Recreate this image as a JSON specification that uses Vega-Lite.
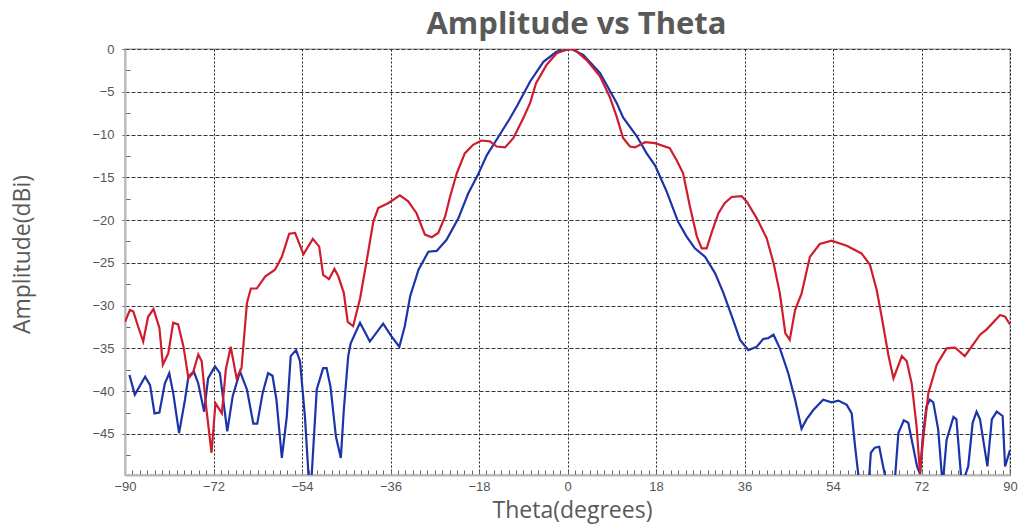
{
  "$schema": "https://vega.github.io/schema/vega-lite/v6.json",
  "width": 885,
  "height": 426,
  "autosize": "none",
  "padding": {"left": 125, "top": 49, "right": 14, "bottom": 52},
  "background": "white",
  "title": {"text": "Amplitude vs Theta", "font": "Open Sans", "fontSize": 31, "fontWeight": "bold", "color": "#595959", "anchor": "middle", "frame": "group", "offset": 2, "dx": 9},
  "config": {"view": {"stroke": "#bdbdbd", "strokeWidth": 1.5}},
  "data": {"values": [
    {"series": "Blue", "theta": -89.1, "amp": -38.1},
    {"series": "Blue", "theta": -88.0, "amp": -40.4},
    {"series": "Blue", "theta": -85.9, "amp": -38.3},
    {"series": "Blue", "theta": -84.9, "amp": -39.3},
    {"series": "Blue", "theta": -84.0, "amp": -42.6},
    {"series": "Blue", "theta": -83.0, "amp": -42.5},
    {"series": "Blue", "theta": -81.9, "amp": -39.1},
    {"series": "Blue", "theta": -81.0, "amp": -37.9},
    {"series": "Blue", "theta": -80.2, "amp": -40.2},
    {"series": "Blue", "theta": -79.0, "amp": -44.9},
    {"series": "Blue", "theta": -77.8, "amp": -41.0},
    {"series": "Blue", "theta": -77.1, "amp": -38.3},
    {"series": "Blue", "theta": -76.0, "amp": -37.7},
    {"series": "Blue", "theta": -75.1, "amp": -39.1},
    {"series": "Blue", "theta": -73.9, "amp": -42.4},
    {"series": "Blue", "theta": -73.1, "amp": -38.5},
    {"series": "Blue", "theta": -71.7, "amp": -37.1},
    {"series": "Blue", "theta": -70.7, "amp": -37.9},
    {"series": "Blue", "theta": -69.2, "amp": -44.7},
    {"series": "Blue", "theta": -68.1, "amp": -40.6},
    {"series": "Blue", "theta": -66.6, "amp": -37.7},
    {"series": "Blue", "theta": -65.2, "amp": -39.8},
    {"series": "Blue", "theta": -63.9, "amp": -43.8},
    {"series": "Blue", "theta": -63.1, "amp": -43.8},
    {"series": "Blue", "theta": -62.0, "amp": -40.2},
    {"series": "Blue", "theta": -60.9, "amp": -37.9},
    {"series": "Blue", "theta": -60.0, "amp": -38.2},
    {"series": "Blue", "theta": -59.2, "amp": -41.0},
    {"series": "Blue", "theta": -58.1, "amp": -47.8},
    {"series": "Blue", "theta": -57.1, "amp": -43.0},
    {"series": "Blue", "theta": -56.3, "amp": -35.9},
    {"series": "Blue", "theta": -55.2, "amp": -35.2},
    {"series": "Blue", "theta": -54.4, "amp": -36.5},
    {"series": "Blue", "theta": -53.4, "amp": -43.0},
    {"series": "Blue", "theta": -52.6, "amp": -50.5},
    {"series": "Blue", "theta": -52.1, "amp": -50.5},
    {"series": "Blue", "theta": -51.0, "amp": -39.8},
    {"series": "Blue", "theta": -49.7, "amp": -37.3},
    {"series": "Blue", "theta": -49.0, "amp": -37.3},
    {"series": "Blue", "theta": -48.2, "amp": -39.5},
    {"series": "Blue", "theta": -47.1, "amp": -45.3},
    {"series": "Blue", "theta": -46.1, "amp": -47.8},
    {"series": "Blue", "theta": -45.5, "amp": -42.2},
    {"series": "Blue", "theta": -44.6, "amp": -35.9},
    {"series": "Blue", "theta": -44.1, "amp": -34.4},
    {"series": "Blue", "theta": -42.2, "amp": -32.0},
    {"series": "Blue", "theta": -40.2, "amp": -34.2},
    {"series": "Blue", "theta": -37.5, "amp": -32.1},
    {"series": "Blue", "theta": -35.8, "amp": -33.6},
    {"series": "Blue", "theta": -34.2, "amp": -34.8},
    {"series": "Blue", "theta": -33.1, "amp": -32.4},
    {"series": "Blue", "theta": -32.0, "amp": -28.9},
    {"series": "Blue", "theta": -30.3, "amp": -25.8},
    {"series": "Blue", "theta": -28.3, "amp": -23.7},
    {"series": "Blue", "theta": -26.6, "amp": -23.6},
    {"series": "Blue", "theta": -24.6, "amp": -22.3},
    {"series": "Blue", "theta": -22.2, "amp": -19.8},
    {"series": "Blue", "theta": -20.2, "amp": -16.9},
    {"series": "Blue", "theta": -18.3, "amp": -14.8},
    {"series": "Blue", "theta": -16.4, "amp": -12.4},
    {"series": "Blue", "theta": -14.2, "amp": -10.4},
    {"series": "Blue", "theta": -11.7, "amp": -8.1},
    {"series": "Blue", "theta": -10.3, "amp": -6.7},
    {"series": "Blue", "theta": -7.6, "amp": -3.8},
    {"series": "Blue", "theta": -4.9, "amp": -1.5},
    {"series": "Blue", "theta": -2.2, "amp": -0.3},
    {"series": "Blue", "theta": 0.8, "amp": 0.0},
    {"series": "Blue", "theta": 3.2, "amp": -0.7},
    {"series": "Blue", "theta": 6.6, "amp": -2.8},
    {"series": "Blue", "theta": 10.0, "amp": -6.3},
    {"series": "Blue", "theta": 11.3, "amp": -8.0},
    {"series": "Blue", "theta": 14.1, "amp": -10.2},
    {"series": "Blue", "theta": 16.1, "amp": -12.2},
    {"series": "Blue", "theta": 17.8, "amp": -13.6},
    {"series": "Blue", "theta": 20.2, "amp": -16.7},
    {"series": "Blue", "theta": 22.5, "amp": -20.2},
    {"series": "Blue", "theta": 24.2, "amp": -21.9},
    {"series": "Blue", "theta": 25.9, "amp": -23.3},
    {"series": "Blue", "theta": 28.0, "amp": -24.3},
    {"series": "Blue", "theta": 30.0, "amp": -26.2},
    {"series": "Blue", "theta": 31.7, "amp": -28.5},
    {"series": "Blue", "theta": 33.7, "amp": -31.7},
    {"series": "Blue", "theta": 35.1, "amp": -34.0},
    {"series": "Blue", "theta": 36.8, "amp": -35.2},
    {"series": "Blue", "theta": 38.5, "amp": -34.8},
    {"series": "Blue", "theta": 39.8, "amp": -33.9},
    {"series": "Blue", "theta": 40.8, "amp": -33.8},
    {"series": "Blue", "theta": 41.9, "amp": -33.4},
    {"series": "Blue", "theta": 43.2, "amp": -35.0},
    {"series": "Blue", "theta": 44.9, "amp": -37.9},
    {"series": "Blue", "theta": 46.3, "amp": -41.0},
    {"series": "Blue", "theta": 47.6, "amp": -44.4},
    {"series": "Blue", "theta": 48.6, "amp": -43.3},
    {"series": "Blue", "theta": 50.0, "amp": -42.2},
    {"series": "Blue", "theta": 52.0, "amp": -41.0},
    {"series": "Blue", "theta": 53.7, "amp": -41.3},
    {"series": "Blue", "theta": 55.1, "amp": -41.1},
    {"series": "Blue", "theta": 56.8, "amp": -41.6},
    {"series": "Blue", "theta": 57.8, "amp": -42.6},
    {"series": "Blue", "theta": 58.5, "amp": -46.5},
    {"series": "Blue", "theta": 59.3, "amp": -50.5},
    {"series": "Blue", "theta": 60.5, "amp": -52.0},
    {"series": "Blue", "theta": 61.3, "amp": -50.5},
    {"series": "Blue", "theta": 61.7, "amp": -47.2},
    {"series": "Blue", "theta": 62.5, "amp": -46.6},
    {"series": "Blue", "theta": 63.4, "amp": -46.5},
    {"series": "Blue", "theta": 64.2, "amp": -48.8},
    {"series": "Blue", "theta": 65.0, "amp": -51.0},
    {"series": "Blue", "theta": 66.5, "amp": -51.0},
    {"series": "Blue", "theta": 67.3, "amp": -44.9},
    {"series": "Blue", "theta": 68.4, "amp": -43.4},
    {"series": "Blue", "theta": 69.3, "amp": -43.7},
    {"series": "Blue", "theta": 70.3, "amp": -46.5},
    {"series": "Blue", "theta": 71.1, "amp": -48.8},
    {"series": "Blue", "theta": 71.7, "amp": -49.7},
    {"series": "Blue", "theta": 72.2, "amp": -45.7},
    {"series": "Blue", "theta": 73.0, "amp": -41.8},
    {"series": "Blue", "theta": 73.7, "amp": -41.0},
    {"series": "Blue", "theta": 74.4, "amp": -41.3},
    {"series": "Blue", "theta": 75.4, "amp": -44.5},
    {"series": "Blue", "theta": 76.3, "amp": -51.0},
    {"series": "Blue", "theta": 77.1, "amp": -45.7},
    {"series": "Blue", "theta": 78.5, "amp": -43.0},
    {"series": "Blue", "theta": 79.1, "amp": -43.3},
    {"series": "Blue", "theta": 80.2, "amp": -51.0},
    {"series": "Blue", "theta": 81.5, "amp": -48.8},
    {"series": "Blue", "theta": 82.4, "amp": -43.7},
    {"series": "Blue", "theta": 83.2, "amp": -42.4},
    {"series": "Blue", "theta": 83.9, "amp": -43.3},
    {"series": "Blue", "theta": 85.4, "amp": -48.8},
    {"series": "Blue", "theta": 86.3, "amp": -43.3},
    {"series": "Blue", "theta": 87.3, "amp": -42.4},
    {"series": "Blue", "theta": 88.5, "amp": -42.9},
    {"series": "Blue", "theta": 89.0, "amp": -48.8},
    {"series": "Blue", "theta": 90.0, "amp": -46.9},
    {"series": "Red", "theta": -90.0, "amp": -31.9},
    {"series": "Red", "theta": -89.0, "amp": -30.5},
    {"series": "Red", "theta": -88.3, "amp": -30.7},
    {"series": "Red", "theta": -87.3, "amp": -32.5},
    {"series": "Red", "theta": -86.3, "amp": -34.2},
    {"series": "Red", "theta": -85.3, "amp": -31.3},
    {"series": "Red", "theta": -84.2, "amp": -30.4},
    {"series": "Red", "theta": -83.0, "amp": -32.6},
    {"series": "Red", "theta": -82.3, "amp": -36.9},
    {"series": "Red", "theta": -81.2, "amp": -35.6},
    {"series": "Red", "theta": -80.2, "amp": -32.0},
    {"series": "Red", "theta": -79.2, "amp": -32.2},
    {"series": "Red", "theta": -78.1, "amp": -34.8},
    {"series": "Red", "theta": -77.1, "amp": -38.5},
    {"series": "Red", "theta": -76.2, "amp": -37.9},
    {"series": "Red", "theta": -75.1, "amp": -35.7},
    {"series": "Red", "theta": -74.4, "amp": -36.5},
    {"series": "Red", "theta": -73.5, "amp": -41.8},
    {"series": "Red", "theta": -72.4, "amp": -47.2},
    {"series": "Red", "theta": -71.6, "amp": -41.4},
    {"series": "Red", "theta": -70.3, "amp": -42.6},
    {"series": "Red", "theta": -69.5, "amp": -37.5},
    {"series": "Red", "theta": -68.5, "amp": -34.8},
    {"series": "Red", "theta": -67.3, "amp": -38.5},
    {"series": "Red", "theta": -66.3, "amp": -37.3},
    {"series": "Red", "theta": -65.2, "amp": -29.7},
    {"series": "Red", "theta": -64.4, "amp": -28.0},
    {"series": "Red", "theta": -63.2, "amp": -28.0},
    {"series": "Red", "theta": -61.5, "amp": -26.6},
    {"series": "Red", "theta": -59.5, "amp": -25.8},
    {"series": "Red", "theta": -58.1, "amp": -24.3},
    {"series": "Red", "theta": -56.6, "amp": -21.6},
    {"series": "Red", "theta": -55.4, "amp": -21.5},
    {"series": "Red", "theta": -53.7, "amp": -24.0},
    {"series": "Red", "theta": -51.8, "amp": -22.2},
    {"series": "Red", "theta": -50.5, "amp": -23.1},
    {"series": "Red", "theta": -49.7, "amp": -26.4},
    {"series": "Red", "theta": -48.5, "amp": -26.9},
    {"series": "Red", "theta": -47.4, "amp": -25.7},
    {"series": "Red", "theta": -46.6, "amp": -26.6},
    {"series": "Red", "theta": -45.5, "amp": -28.5},
    {"series": "Red", "theta": -44.7, "amp": -31.9},
    {"series": "Red", "theta": -43.6, "amp": -32.4},
    {"series": "Red", "theta": -42.2, "amp": -29.2},
    {"series": "Red", "theta": -40.8, "amp": -24.6},
    {"series": "Red", "theta": -39.5, "amp": -20.2},
    {"series": "Red", "theta": -38.5, "amp": -18.6},
    {"series": "Red", "theta": -36.4, "amp": -18.0},
    {"series": "Red", "theta": -34.1, "amp": -17.1},
    {"series": "Red", "theta": -32.4, "amp": -17.8},
    {"series": "Red", "theta": -30.7, "amp": -19.2},
    {"series": "Red", "theta": -29.0, "amp": -21.7},
    {"series": "Red", "theta": -27.6, "amp": -22.0},
    {"series": "Red", "theta": -26.3, "amp": -21.5},
    {"series": "Red", "theta": -24.9, "amp": -19.6},
    {"series": "Red", "theta": -23.9, "amp": -17.3},
    {"series": "Red", "theta": -22.5, "amp": -14.5},
    {"series": "Red", "theta": -20.9, "amp": -12.2},
    {"series": "Red", "theta": -19.2, "amp": -11.2},
    {"series": "Red", "theta": -17.5, "amp": -10.7},
    {"series": "Red", "theta": -15.8, "amp": -10.8},
    {"series": "Red", "theta": -14.4, "amp": -11.4},
    {"series": "Red", "theta": -12.7, "amp": -11.5},
    {"series": "Red", "theta": -11.0, "amp": -10.4},
    {"series": "Red", "theta": -9.0, "amp": -8.1},
    {"series": "Red", "theta": -7.6, "amp": -6.3},
    {"series": "Red", "theta": -6.4, "amp": -4.0},
    {"series": "Red", "theta": -4.2, "amp": -1.8},
    {"series": "Red", "theta": -2.2, "amp": -0.5},
    {"series": "Red", "theta": 0.2, "amp": 0.0},
    {"series": "Red", "theta": 1.5, "amp": -0.1},
    {"series": "Red", "theta": 3.9, "amp": -1.3},
    {"series": "Red", "theta": 6.6, "amp": -3.2},
    {"series": "Red", "theta": 8.6, "amp": -5.6},
    {"series": "Red", "theta": 10.0, "amp": -7.9},
    {"series": "Red", "theta": 11.3, "amp": -10.4},
    {"series": "Red", "theta": 12.7, "amp": -11.4},
    {"series": "Red", "theta": 13.7, "amp": -11.5},
    {"series": "Red", "theta": 15.8, "amp": -10.9},
    {"series": "Red", "theta": 17.8, "amp": -11.0},
    {"series": "Red", "theta": 20.8, "amp": -11.6},
    {"series": "Red", "theta": 22.2, "amp": -13.0},
    {"series": "Red", "theta": 23.5, "amp": -14.5},
    {"series": "Red", "theta": 24.9, "amp": -18.4},
    {"series": "Red", "theta": 26.3, "amp": -21.9},
    {"series": "Red", "theta": 27.3, "amp": -23.3},
    {"series": "Red", "theta": 28.3, "amp": -23.3},
    {"series": "Red", "theta": 29.3, "amp": -21.5},
    {"series": "Red", "theta": 30.7, "amp": -19.2},
    {"series": "Red", "theta": 32.0, "amp": -18.0},
    {"series": "Red", "theta": 33.4, "amp": -17.3},
    {"series": "Red", "theta": 35.4, "amp": -17.2},
    {"series": "Red", "theta": 36.4, "amp": -17.8},
    {"series": "Red", "theta": 38.5, "amp": -19.8},
    {"series": "Red", "theta": 40.5, "amp": -22.1},
    {"series": "Red", "theta": 41.9, "amp": -25.0},
    {"series": "Red", "theta": 43.2, "amp": -28.6},
    {"series": "Red", "theta": 44.3, "amp": -33.2},
    {"series": "Red", "theta": 45.2, "amp": -34.0},
    {"series": "Red", "theta": 46.3, "amp": -30.5},
    {"series": "Red", "theta": 47.6, "amp": -28.6},
    {"series": "Red", "theta": 49.3, "amp": -24.3},
    {"series": "Red", "theta": 51.3, "amp": -22.8},
    {"series": "Red", "theta": 53.7, "amp": -22.4},
    {"series": "Red", "theta": 56.8, "amp": -23.0},
    {"series": "Red", "theta": 59.8, "amp": -23.9},
    {"series": "Red", "theta": 61.5, "amp": -25.2},
    {"series": "Red", "theta": 62.9, "amp": -28.2},
    {"series": "Red", "theta": 63.9, "amp": -31.3},
    {"series": "Red", "theta": 65.3, "amp": -35.9},
    {"series": "Red", "theta": 66.3, "amp": -38.5},
    {"series": "Red", "theta": 68.0, "amp": -35.9},
    {"series": "Red", "theta": 69.0, "amp": -36.5},
    {"series": "Red", "theta": 70.0, "amp": -39.1},
    {"series": "Red", "theta": 71.0, "amp": -44.1},
    {"series": "Red", "theta": 71.7, "amp": -49.6},
    {"series": "Red", "theta": 72.4, "amp": -45.3},
    {"series": "Red", "theta": 73.4, "amp": -40.2},
    {"series": "Red", "theta": 75.1, "amp": -36.9},
    {"series": "Red", "theta": 77.1, "amp": -35.0},
    {"series": "Red", "theta": 78.8, "amp": -34.9},
    {"series": "Red", "theta": 80.8, "amp": -35.9},
    {"series": "Red", "theta": 82.2, "amp": -34.8},
    {"series": "Red", "theta": 83.9, "amp": -33.4},
    {"series": "Red", "theta": 85.2, "amp": -32.8},
    {"series": "Red", "theta": 88.0, "amp": -31.1},
    {"series": "Red", "theta": 89.0, "amp": -31.3},
    {"series": "Red", "theta": 90.0, "amp": -32.2}
  ]},
  "mark": {"type": "line", "clip": true, "strokeWidth": 2.2},
  "encoding": {
    "x": {
      "field": "theta", "type": "quantitative",
      "scale": {"domain": [-90, 90], "nice": false, "zero": false},
      "axis": {
        "title": "Theta(degrees)",
        "titleFont": "Open Sans", "titleFontSize": 23, "titleFontWeight": "normal", "titleColor": "#595959",
        "titleX": 447, "titleY": 35, "titleAlign": "center", "titleBaseline": "middle",
        "values": [-90,-88.5,-87,-85.5,-84,-82.5,-81,-79.5,-78,-76.5,-75,-73.5,-72,-70.5,-69,-67.5,-66,-64.5,-63,-61.5,-60,-58.5,-57,-55.5,-54,-52.5,-51,-49.5,-48,-46.5,-45,-43.5,-42,-40.5,-39,-37.5,-36,-34.5,-33,-31.5,-30,-28.5,-27,-25.5,-24,-22.5,-21,-19.5,-18,-16.5,-15,-13.5,-12,-10.5,-9,-7.5,-6,-4.5,-3,-1.5,0,1.5,3,4.5,6,7.5,9,10.5,12,13.5,15,16.5,18,19.5,21,22.5,24,25.5,27,28.5,30,31.5,33,34.5,36,37.5,39,40.5,42,43.5,45,46.5,48,49.5,51,52.5,54,55.5,57,58.5,60,61.5,63,64.5,66,67.5,69,70.5,72,73.5,75,76.5,78,79.5,81,82.5,84,85.5,87,88.5,90],
        "labelExpr": "datum.value % 18 === 0 ? datum.label : ''",
        "labelFont": "Liberation Sans", "labelFontSize": 13, "labelColor": "#555555",
        "labelPadding": 10, "labelFlush": false, "labelOverlap": false,
        "tickSize": -5, "tickColor": "#666666", "tickWidth": 1,
        "domainColor": "#b8b8b8", "domainWidth": 2,
        "grid": true, "gridColor": "#1a1a1a", "gridDash": [2, 2], "gridWidth": 1,
        "gridOpacity": {"condition": {"test": "datum.value % 18 === 0", "value": 1}, "value": 0}
      }
    },
    "y": {
      "field": "amp", "type": "quantitative",
      "scale": {"domain": [-49.8, 0], "nice": false, "zero": false},
      "axis": {
        "title": "Amplitude(dBi)",
        "titleFont": "Open Sans", "titleFontSize": 23, "titleFontWeight": "normal", "titleColor": "#595959",
        "titleX": -103, "titleY": 205, "titleAngle": -90, "titleAlign": "center", "titleBaseline": "middle",
        "values": [0,-2.5,-5,-7.5,-10,-12.5,-15,-17.5,-20,-22.5,-25,-27.5,-30,-32.5,-35,-37.5,-40,-42.5,-45,-47.5],
        "labelExpr": "datum.value % 5 === 0 ? datum.label : ''",
        "labelFont": "Liberation Sans", "labelFontSize": 13, "labelColor": "#555555",
        "labelPadding": 8, "labelOverlap": false, "labelFlush": false,
        "tickSize": {"condition": {"test": "datum.value % 5 === 0", "value": 3}, "value": -5},
        "tickColor": "#666666", "tickWidth": 1,
        "domainColor": "#b8b8b8", "domainWidth": 2,
        "grid": true, "gridColor": "#333333", "gridDash": [4, 2], "gridWidth": 1,
        "gridOpacity": {"condition": {"test": "datum.value % 5 === 0", "value": 1}, "value": 0}
      }
    },
    "color": {
      "field": "series", "type": "nominal",
      "scale": {"domain": ["Blue", "Red"], "range": ["#1c34a8", "#cf1d2f"]},
      "legend": null
    }
  }
}
